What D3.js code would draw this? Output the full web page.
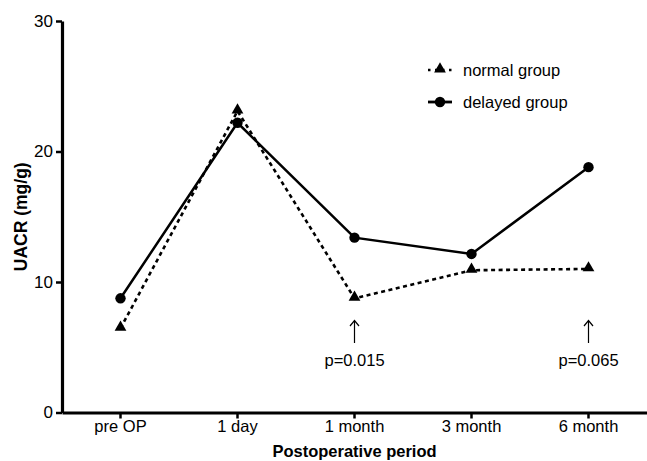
<!DOCTYPE html>
<meta charset="utf-8">
<script src="https://d3js.org/d3.v7.min.js"></script>
<style>
  body { margin: 0; background: #fff; }
  text { font-family: "Liberation Sans", Arial, sans-serif; fill: #000; }
</style>
<div id="my_dataviz"></div>
<script>
    // data
    var periods = ["pre OP", "1 day", "1 month", "3 month", "6 month"];
    var normalGroup = [6.45, 23.1, 8.75, 10.9, 11.0];
    var delayedGroup = [8.75, 22.2, 13.4, 12.15, 18.8];
    var yTicks = [0, 10, 20, 30];
    var pValues = [{ period: "1 month", label: "p=0.015" }, { period: "6 month", label: "p=0.065" }];

    var W = 647, H = 461;
    var margin = { left: 62, right: 647, top: 21, bottom: 412.5 };

    var svg = d3.select("#my_dataviz")
        .append("svg")
        .attr("width", W)
        .attr("height", H);

    var x = d3.scaleBand()
        .domain(periods)
        .range([margin.left, margin.right])
        .padding(0);

    var y = d3.scaleLinear()
        .domain([0, 30])
        .range([margin.bottom, margin.top]);

    var cx = function (p) { return x(p) + x.bandwidth() / 2; };

    // y axis
    var yAxis = svg.append("g")
        .attr("transform", "translate(" + margin.left + ",0)")
        .call(d3.axisLeft(y).tickValues(yTicks).tickSize(6).tickSizeOuter(0).tickPadding(3));
    yAxis.select(".domain").attr("stroke-width", 3.2);
    yAxis.selectAll(".tick line").attr("stroke-width", 2.5);
    yAxis.selectAll(".tick text").style("font-size", "17px");

    // x axis
    var xAxis = svg.append("g")
        .attr("transform", "translate(0," + margin.bottom + ")")
        .call(d3.axisBottom(x).tickSize(6).tickSizeOuter(0).tickPadding(2));
    xAxis.select(".domain").attr("stroke-width", 3.2);
    xAxis.selectAll(".tick line").attr("stroke-width", 2.5);
    xAxis.selectAll(".tick text").style("font-size", "16.5px");

    // axis titles
    svg.append("text")
        .attr("transform", "translate(27," + ((margin.top + margin.bottom) / 2) + ")rotate(-90)")
        .attr("text-anchor", "middle")
        .style("font-size", "17.5px")
        .style("font-weight", "bold")
        .text("UACR (mg/g)");

    svg.append("text")
        .attr("x", cx("1 month"))
        .attr("y", 457)
        .attr("text-anchor", "middle")
        .style("font-size", "16.5px")
        .style("font-weight", "bold")
        .text("Postoperative period");

    var line = d3.line()
        .x(function (d, i) { return cx(periods[i]); })
        .y(function (d) { return y(d); });

    // delayed group (solid, circles)
    svg.append("path")
        .datum(delayedGroup)
        .attr("d", line)
        .attr("fill", "none")
        .attr("stroke", "#000")
        .attr("stroke-width", 2.5);

    svg.selectAll(".dot")
        .data(delayedGroup)
        .enter()
        .append("circle")
        .attr("cx", function (d, i) { return cx(periods[i]); })
        .attr("cy", function (d) { return y(d); })
        .attr("r", 5.2)
        .attr("fill", "#000");

    // normal group (dashed, triangles)
    svg.append("path")
        .datum(normalGroup)
        .attr("d", line)
        .attr("fill", "none")
        .attr("stroke", "#000")
        .attr("stroke-width", 2.6)
        .attr("stroke-dasharray", "4,3.5");

    var tri = d3.symbol().type(d3.symbolTriangle).size(60);
    svg.selectAll(".tri")
        .data(normalGroup)
        .enter()
        .append("path")
        .attr("d", tri)
        .attr("transform", function (d, i) { return "translate(" + cx(periods[i]) + "," + (y(d) - 1) + ")"; })
        .attr("fill", "#000");

    // legend
    var legend = svg.append("g");
    legend.append("line")
        .attr("x1", 428).attr("x2", 452).attr("y1", 70).attr("y2", 70)
        .attr("stroke", "#000").attr("stroke-width", 2.5)
        .attr("stroke-dasharray", "2.5,4.5");
    legend.append("path")
        .attr("d", tri)
        .attr("transform", "translate(440,69)")
        .attr("fill", "#000");
    legend.append("text")
        .attr("x", 463).attr("y", 76)
        .style("font-size", "16.5px")
        .text("normal group");

    legend.append("line")
        .attr("x1", 428).attr("x2", 452).attr("y1", 102).attr("y2", 102)
        .attr("stroke", "#000").attr("stroke-width", 2.8);
    legend.append("circle")
        .attr("cx", 440).attr("cy", 102).attr("r", 5.2)
        .attr("fill", "#000");
    legend.append("text")
        .attr("x", 463).attr("y", 108)
        .style("font-size", "16.5px")
        .text("delayed group");

    // p-value annotations
    var notes = svg.selectAll(".note")
        .data(pValues)
        .enter()
        .append("g")
        .attr("transform", function (d) { return "translate(" + cx(d.period) + ",0)"; });

    notes.append("line")
        .attr("x1", 0).attr("x2", 0).attr("y1", 321).attr("y2", 343)
        .attr("stroke", "#000").attr("stroke-width", 1.2);
    notes.append("path")
        .attr("d", "M-4.5,326 L0,320.5 L4.5,326")
        .attr("fill", "none")
        .attr("stroke", "#000").attr("stroke-width", 1.2);
    notes.append("text")
        .attr("y", 366)
        .attr("text-anchor", "middle")
        .style("font-size", "16.5px")
        .text(function (d) { return d.label; });
</script>
